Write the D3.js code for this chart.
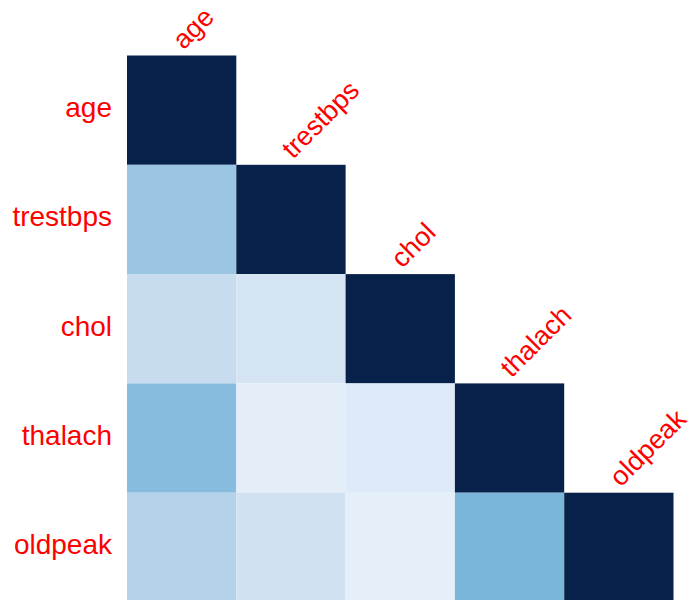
<!DOCTYPE html>
<html>
<head>
<meta charset="utf-8">
<script src="https://cdn.jsdelivr.net/npm/d3@7"></script>
<style>
  body { margin: 0; background: #fff; }
  text { font-family: "Liberation Sans", Arial, sans-serif; }
</style>
</head>
<body>
<svg id="chart"></svg>
<script>
// variables of the correlation matrix
const vars = ['age', 'trestbps', 'chol', 'thalach', 'oldpeak']

// lower triangle, row by row (colour strength)
const rowAge = [1]
const rowTrestbps = [0.37, 1]
const rowChol = [0.24, 0.18, 1]
const rowThalach = [0.42, 0.10, 0.13, 1]
const rowOldpeak = [0.30, 0.20, 0.09, 0.46, 1]
const rows = [rowAge, rowTrestbps, rowChol, rowThalach, rowOldpeak]

const width = 692
const height = 600

const svg = d3.select('#chart')
  .attr('width', width)
  .attr('height', height)

const x = d3.scaleBand()
  .domain(vars)
  .range([127, 673.5])
  .padding(0)
const y = d3.scaleBand()
  .domain(vars)
  .range([55.5, 602])
  .padding(0)

const colorScale = d3.scaleLinear()
  .domain([0, 0.25, 0.5, 1])
  .range(['#f7fbff', '#c6dbef', '#6baed6', '#08214a'])

const cells = []
rows.forEach((r, i) => {
  r.forEach((v, j) => {
    cells.push({ row: vars[i], col: vars[j], value: v })
  })
})

svg.selectAll('.cell')
  .data(cells)
  .enter().append('rect')
  .attr('class', 'cell')
  .attr('x', (d) => x(d.col))
  .attr('y', (d) => y(d.row))
  .attr('width', x.bandwidth())
  .attr('height', y.bandwidth())
  .style('fill', (d) => colorScale(d.value))

// row labels
svg.selectAll('.row-label')
  .data(vars)
  .enter().append('text')
  .attr('class', 'row-label')
  .attr('x', 112)
  .attr('y', (d) => y(d) + y.bandwidth() / 2 + 7)
  .attr('text-anchor', 'end')
  .style('font-size', '28px')
  .style('fill', '#ff0000')
  .text((d) => d)

// column labels, on top of the diagonal cells
svg.selectAll('.col-label')
  .data(vars)
  .enter().append('text')
  .attr('class', 'col-label')
  .attr('transform', (d) => `translate(${x(d) + x.bandwidth() / 2 + 2},${y(d) - 5}) rotate(-45)`)
  .attr('text-anchor', 'start')
  .style('font-size', '27px')
  .style('fill', '#ff0000')
  .text((d) => d)
</script>
</body>
</html>
